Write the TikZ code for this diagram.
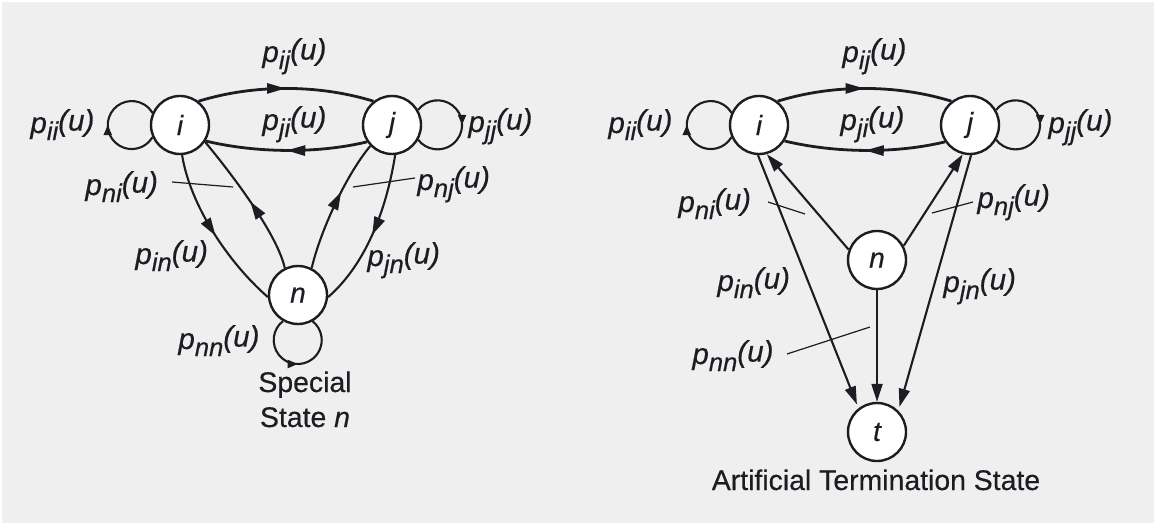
\documentclass[tikz,border=0pt]{standalone}
\usepackage{fontspec}
\setmainfont{Liberation Sans}[FakeBold=0.4]
\usetikzlibrary{arrows.meta,decorations.markings}
\definecolor{bg}{RGB}{239,239,239}
\definecolor{ink}{RGB}{28,28,34}
\newcommand{\pl}[1]{\textit{p\raisebox{-0.45ex}{\fontsize{12.8}{14}\selectfont #1}\raisebox{0.15ex}{(u)}}}
\begin{document}
\begin{tikzpicture}[x=0.5pt,y=-0.5pt,
  state/.style={circle,draw=ink,fill=white,line width=1.2pt,minimum size=29pt,inner sep=0pt,
    font=\fontsize{14}{16}\selectfont\itshape,text=ink},
  lab/.style={anchor=base west,inner sep=0pt,font=\fontsize{14.8}{17}\selectfont,text=ink},
  txt/.style={anchor=base,inner sep=0pt,font=\fontsize{14.2}{17}\selectfont,text=ink},
  edge/.style={draw=ink,line width=1.05pt},
  arcedge/.style={draw=ink,line width=1.4pt},
  leader/.style={draw=ink,line width=0.6pt},
  tipend/.style={-{Triangle[length=9pt,width=5.5pt]}},
  midarrow/.style={postaction={decorate},decoration={markings,
    mark=at position #1 with {\arrow{Triangle[length=9pt,width=5.5pt]}}}},
  arcarrow/.style={postaction={decorate},decoration={markings,
    mark=at position #1 with {\arrow{Triangle[length=9.5pt,width=5pt]}}}},
  looparrow/.style={postaction={decorate},decoration={markings,
    mark=at position 0.5 with {\arrow{Triangle[length=5pt,width=4pt]}}}}
]
\useasboundingbox (0,0) rectangle (1154,523);
\fill[white] (0,0) rectangle (1154,523);
\fill[bg] (2,2) rectangle (1154,523);

% ---------------- left diagram ----------------
\node[state] (iL) at (180,125) {i};
\node[state] (jL) at (392,125) {j};
\node[state] (nL) at (298,295) {n};

\draw[edge,looparrow] (iL.204) arc[start angle=30.6,end angle=329.4,radius=24];
\draw[edge,looparrow] (jL.30) arc[start angle=-142.4,end angle=142.4,radius=24.5];
\draw[edge,looparrow] (nL.240.4) arc[start angle=-128.1,end angle=-411.9,radius=24];

\draw[arcedge,arcarrow=0.5] (iL.52) .. controls +(55,-17) and +(-55,-17) .. (jL.128);
\draw[arcedge,arcarrow=0.5] (jL.214) .. controls +(-50,12) and +(50,12) .. (iL.328);

\draw[edge,midarrow=0.52] (iL.274) .. controls +(8,50) and +(-40,-35) .. (nL.184);
\draw[edge,midarrow=0.5] (nL.116.6) .. controls +(-8,-35) and +(25,30) .. (iL.326);
\draw[edge,midarrow=0.6] (nL.63.4) .. controls +(8,-35) and +(-25,30) .. (jL.224);
\draw[edge,midarrow=0.52] (jL.276) .. controls +(-8,50) and +(40,-35) .. (nL.356);

\node[lab] (LpiiL) at (30,133) {\pl{ii}};
\node[lab] (LpijL) at (262,62) {\pl{ij}};
\node[lab] (LpjiL) at (262,130) {\pl{ji}};
\node[lab] (LpjjL) at (468,132) {\pl{jj}};
\node[lab] (LpniL) at (85,195) {\pl{ni}};
\node[lab] (LpnjL) at (417,190) {\pl{nj}};
\node[lab] (LpinL) at (135,264) {\pl{in}};
\node[lab] (LpjnL) at (367,266) {\pl{jn}};
\node[lab] (LpnnL) at (178,349) {\pl{nn}};
\node[txt] (spec1) at (305,392) {Special};
\node[txt] (spec2) at (305,427) {State \textit{n}};

\coordinate (a1) at (172,182); \coordinate (a2) at (233,187);
\coordinate (b1) at (415,178); \coordinate (b2) at (353,187);
\draw[leader] (a1) -- (a2);
\draw[leader] (b1) -- (b2);

% ---------------- right diagram ----------------
\node[state] (iR) at (759,125) {i};
\node[state] (jR) at (970,125) {j};
\node[state] (nR) at (877,260) {n};
\node[state] (tR) at (877,432) {t};

\draw[edge,looparrow] (iR.204) arc[start angle=30.6,end angle=329.4,radius=24];
\draw[edge,looparrow] (jR.30) arc[start angle=-142.4,end angle=142.4,radius=24.5];

\draw[arcedge,arcarrow=0.5] (iR.52) .. controls +(55,-17) and +(-55,-17) .. (jR.128);
\draw[arcedge,arcarrow=0.5] (jR.214) .. controls +(-50,12) and +(50,12) .. (iR.328);

\draw[edge,tipend] (nR.160) -- (iR.285);
\draw[edge,tipend] (nR.28) -- (jR.256);
\draw[edge,tipend,shorten >=2pt] (iR.268) -- (tR.128);
\draw[edge,tipend,shorten >=2pt] (jR.272) -- (tR.45);
\draw[edge,tipend] (nR.south) -- (tR.north);

\node[lab] (LpiiR) at (608,133) {\pl{ii}};
\node[lab] (LpijR) at (842,62) {\pl{ij}};
\node[lab] (LpjiR) at (840,130) {\pl{ji}};
\node[lab] (LpjjR) at (1048,133) {\pl{jj}};
\node[lab] (LpniR) at (678,212) {\pl{ni}};
\node[lab] (LpnjR) at (977,208) {\pl{nj}};
\node[lab] (LpinR) at (717,291) {\pl{in}};
\node[lab] (LpjnR) at (943,292) {\pl{jn}};
\node[lab] (LpnnR) at (692,364) {\pl{nn}};
\node[txt] (term) at (876,490) {Artificial Termination State};

\coordinate (c1) at (768,202); \coordinate (c2) at (805,214);
\coordinate (d1) at (973,202); \coordinate (d2) at (932,213);
\coordinate (e1) at (787,354); \coordinate (e2) at (870,327);
\draw[leader] (c1) -- (c2);
\draw[leader] (d1) -- (d2);
\draw[leader] (e1) -- (e2);
\end{tikzpicture}
\end{document}
